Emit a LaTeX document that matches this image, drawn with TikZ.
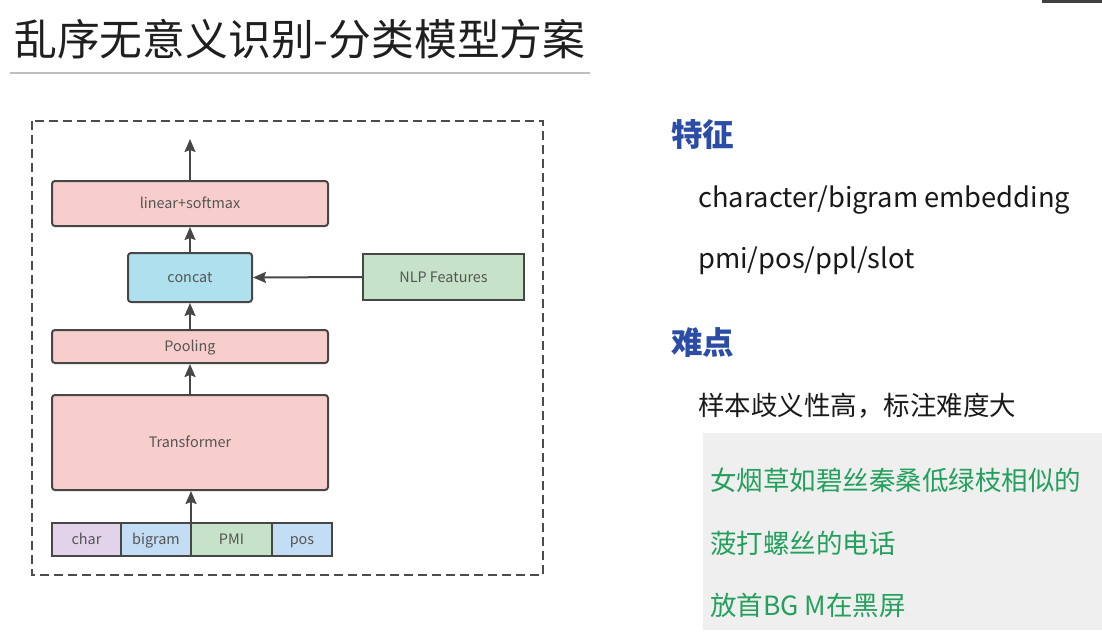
\documentclass[tikz,border=0pt]{standalone}
\usepackage{fontspec}
\setmainfont{Noto Sans CJK SC}
\usetikzlibrary{arrows.meta,positioning}
\definecolor{boxline}{HTML}{474747}
\definecolor{pinkfill}{HTML}{F8CECC}
\definecolor{cyanfill}{HTML}{AEE0EE}
\definecolor{greenfill}{HTML}{C6E2C8}
\definecolor{bluefill}{HTML}{C3DDF4}
\definecolor{purplefill}{HTML}{E2D2EA}
\definecolor{labeltext}{HTML}{555555}
\definecolor{headblue}{HTML}{2C4DA6}
\definecolor{examplegreen}{HTML}{24A05E}
\definecolor{panelgray}{HTML}{EFEFEF}
\begin{document}
\begin{tikzpicture}[x=1pt,y=-1pt,
  label font/.style={text=labeltext,font=\fontsize{14.4}{16}\selectfont,text height=12pt,text depth=2pt},
  layer/.style={draw=boxline,line width=2pt,rounded corners=3pt,fill=pinkfill,inner sep=0pt,label font},
  feat/.style={draw=boxline,line width=2pt,inner sep=0pt,outer sep=0pt,label font,minimum height=33pt},
  flow/.style={draw=boxline,line width=2pt,-{Stealth[length=13pt,width=11pt,inset=2pt]}},
  head/.style={text=headblue,font=\fontsize{31.5}{34}\selectfont\bfseries,anchor=west,inner sep=0pt},
  body/.style={text=black!90,font=\fontsize{27.3}{31}\selectfont,anchor=west,inner sep=0pt},
  example/.style={text=examplegreen,font=\fontsize{26.5}{30}\selectfont,anchor=west,inner sep=0pt}]
\useasboundingbox (0,0) rectangle (1102,642);
\fill[white] (0,0) rectangle (1102,642);
\fill[black!75] (1042,0) rectangle (1102,3.5);

% title and rule
\node[anchor=west,inner sep=0pt,text=black!88,font=\fontsize{42.8}{48}\selectfont] (title) at (14,39) {乱序无意义识别-分类模型方案};
\draw[black!25,line width=1.5pt] (10,73) coordinate (ruleL) -- (590,73) coordinate (ruleR);

% model frame
\draw[black!70,line width=2pt,dash pattern=on 9pt off 5pt] (32,121) rectangle (543,575);

% model layers
\node[layer,minimum width=276pt,minimum height=45pt] (lin) at (190,203.5) {linear+softmax};
\node[layer,fill=cyanfill,minimum width=124pt,minimum height=49pt] (cat) at (190,277.5) {concat};
\node[draw=boxline,line width=2pt,fill=greenfill,inner sep=0pt,label font,
  minimum width=161pt,minimum height=46pt] (nlp) at (443.5,277) {NLP Features};
\node[layer,minimum width=276pt,minimum height=33pt] (pool) at (190,346.5) {Pooling};
\node[layer,minimum width=276pt,minimum height=95pt] (tr) at (190,442.5) {Transformer};

% input features
\node[feat,fill=purplefill,minimum width=69pt] (char) at (86.5,539.5) {char};
\node[feat,fill=bluefill,minimum width=70pt,right=0pt of char] (bigram) {bigram};
\node[feat,fill=greenfill,minimum width=81pt,right=0pt of bigram] (pmi) {PMI};
\node[feat,fill=bluefill,minimum width=60pt,right=0pt of pmi] (pos) {pos};

% connectors
\coordinate (out) at (190,139);
\draw[flow] (lin.north) -- (out);
\draw[flow] (cat.north) -- (lin.south);
\draw[flow] (pool.north) -- (cat.south);
\draw[flow] (tr.north) -- (pool.south);
\draw[flow] (bigram.north east) -- (bigram.north east |- tr.south);
\draw[flow] (nlp.west) -- (cat.east);

% features and difficulties
\node[head] (h1) at (671,135) {特征};
\node[body] (f1) at (698,200) {character/bigram embedding};
\node[body] (f2) at (698,261) {pmi/pos/ppl/slot};
\node[head] (h2) at (671,343) {难点};
\node[body,font=\fontsize{26.5}{30}\selectfont] (d1) at (698,406) {样本歧义性高，标注难度大};
\fill[panelgray] (703,433) rectangle (1102,630);
\node[example] (e1) at (710,480) {女烟草如碧丝秦桑低绿枝相似的};
\node[example] (e2) at (710,543) {菠打螺丝的电话};
\node[example] (e3) at (710,605) {放首BG M在黑屏};
\end{tikzpicture}
\end{document}
